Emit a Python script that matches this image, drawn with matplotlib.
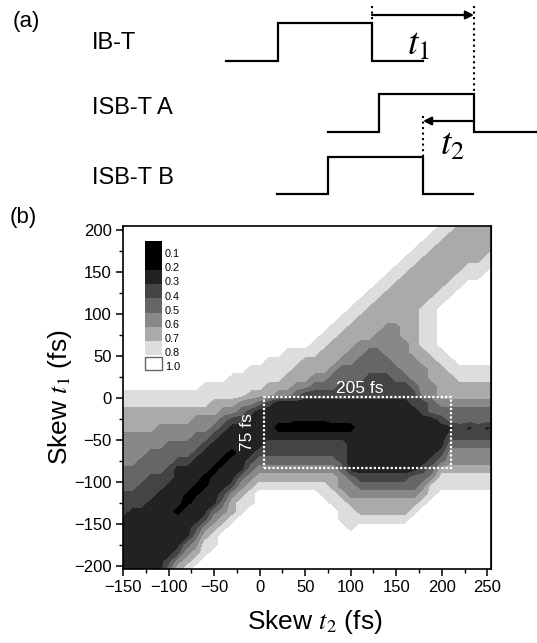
import numpy as np
import matplotlib
matplotlib.use("Agg")
import matplotlib.pyplot as plt
from matplotlib.patches import Rectangle
from matplotlib.ticker import MultipleLocator

plt.rcParams['font.family'] = ['Liberation Sans', 'DejaVu Sans']
plt.rcParams['mathtext.fontset'] = 'stix'

# ---------------- data: panel (b) map ----------------
T2_GRID = list(range(-150, 261, 10))      # skew t2 (fs), columns
T1_GRID = list(range(205, -206, -10))     # skew t1 (fs), rows (top -> bottom)

# band code -> normalised value
LEVEL_VALUE = {'1': 0.13, 'a': 0.17, 'b': 0.21, 'd': 0.23, '2': 0.25, 'c': 0.26,
               '3': 0.35, '4': 0.45, '5': 0.55, '6': 0.65, '7': 0.75, '8': 0.85}

# run-length rows ("code x count"), one per T1_GRID value
MAP_ROWS = [
    "8x35 7x2 6x5",
    "8x34 7x2 6x6",
    "8x33 7x2 6x7",
    "8x32 7x2 6x7 7x1",
    "8x31 7x2 6x7 7x2",
    "8x30 7x2 6x6 7x3 8x1",
    "8x29 7x2 6x6 7x3 8x2",
    "8x28 7x2 6x6 7x2 8x4",
    "8x27 7x2 6x6 7x2 8x5",
    "8x26 7x2 6x6 7x2 8x6",
    "8x25 7x2 6x6 7x2 8x7",
    "8x24 7x2 6x7 7x2 8x7",
    "8x23 7x2 6x4 5x2 6x2 7x2 8x7",
    "8x22 7x2 6x4 5x3 6x2 7x2 8x7",
    "8x21 7x2 6x3 5x6 6x1 7x2 8x7",
    "8x18 7x4 6x3 5x2 4x2 5x3 6x2 7x2 8x6",
    "8x16 7x4 6x4 5x2 4x4 5x3 6x2 7x2 8x5",
    "8x14 7x5 6x4 5x1 4x7 5x3 6x2 7x6",
    "8x12 7x6 6x3 5x2 4x4 3x3 4x2 5x2 6x3 7x5",
    "8x9 7x7 6x3 5x2 4x3 3x8 4x1 5x2 6x7",
    "7x14 6x3 5x2 4x1 3x13 5x2 6x7",
    "7x10 6x3 5x2 4x1 3x1 2x15 3x2 4x1 5x7",
    "6x11 5x2 4x1 3x1 2x18 3x1 4x8",
    "6x8 5x3 4x1 3x2 2x5 bx4 2x12 3x1 4x6",
    "6x4 5x6 4x1 3x1 2x5 1x9 2x10 cx1 3x1 cx1 3x1 cx1 3x1",
    "5x8 4x2 3x1 2x25 3x6",
    "5x5 4x4 3x1 2x6 3x9 2x11 4x6",
    "5x3 4x5 3x1 2x2 dx1 1x1 2x2 3x10 2x10 3x1 5x6",
    "5x2 4x4 3x2 2x3 1x1 2x2 3x1 4x9 3x1 2x9 3x1 4x1 5x6",
    "4x5 3x1 2x4 1x1 2x3 4x1 5x9 4x1 2x8 3x1 4x1 6x7",
    "4x3 3x3 2x3 1x1 dx1 2x2 4x1 5x1 6x9 5x1 4x1 3x6 4x2 5x1 7x7",
    "4x2 3x3 2x3 ax2 2x2 3x1 5x1 6x1 7x8 6x1 5x2 4x7 5x1 7x8",
    "3x4 2x3 ax2 2x2 3x1 5x1 6x1 7x1 8x7 7x2 6x1 5x8 6x1 7x1 8x7",
    "3x3 2x3 dx1 1x1 2x3 4x1 6x1 7x2 8x8 7x2 6x8 7x1 8x8",
    "3x1 2x5 1x1 2x3 4x1 5x1 6x1 7x1 8x10 7x2 6x6 7x1 8x9",
    "2x9 3x1 5x1 6x1 7x1 8x11 7x8 8x10",
    "2x8 3x1 5x1 6x1 7x1 8x13 7x1 8x16",
    "2x8 4x1 6x1 7x1 8x31",
    "2x7 4x1 5x1 7x2 8x31",
    "2x6 3x1 5x1 6x1 7x1 8x32",
    "2x5 3x1 5x1 6x1 7x1 8x33",
    "2x5 4x1 6x1 7x1 8x34",
]

CONTOUR_LEVELS = [0.0, 0.1, 0.2, 0.3, 0.4, 0.5, 0.6, 0.7, 0.8, 1.0]
LEVEL_COLORS = ['#000000', '#000000', '#222222', '#444444', '#666666',
                '#888888', '#aaaaaa', '#dddddd', '#ffffff']
LEGEND_LABELS = ['0.1', '0.2', '0.3', '0.4', '0.5', '0.6', '0.7', '0.8', '1.0']

X_TICKS = [-150, -100, -50, 0, 50, 100, 150, 200, 250]
Y_TICKS = [-200, -150, -100, -50, 0, 50, 100, 150, 200]

BOX_T2 = [5, 210]     # 205 fs window
BOX_T1 = [-83, 1]     # 75 fs window

# ---------------- data: panel (a) timing diagram (pixel units) ----------------
WAVE_NAMES = ['IB-T', 'ISB-T A', 'ISB-T B']
WAVE_START = [226, 328, 277]
WAVE_RISE = [278, 379, 328]
WAVE_FALL = [372, 474, 423]
WAVE_END = [423, 537, 473]
WAVE_HIGH = [23, 94, 157]
WAVE_LOW = [61, 132, 194]
NAME_Y = [43, 108, 178]


def decode(row):
    vals = []
    for tok in row.split():
        code, n = tok.split('x')
        vals += [LEVEL_VALUE[code]] * int(n)
    assert len(vals) == len(T2_GRID), (row, len(vals))
    return vals


Z = np.array([decode(r) for r in MAP_ROWS])
T2, T1 = np.meshgrid(T2_GRID, T1_GRID)

W, H = 537, 643
fig = plt.figure(figsize=(W / 100, H / 100), dpi=100)

# ---- panel (a) overlay in pixel coordinates ----
axa = fig.add_axes([0, 0, 1, 1])
axa.set_xlim(0, W)
axa.set_ylim(H, 0)
axa.axis('off')
axa.patch.set_visible(False)
for i, name in enumerate(WAVE_NAMES):
    xs = [WAVE_START[i], WAVE_RISE[i], WAVE_RISE[i], WAVE_FALL[i], WAVE_FALL[i], WAVE_END[i]]
    ys = [WAVE_LOW[i], WAVE_LOW[i], WAVE_HIGH[i], WAVE_HIGH[i], WAVE_LOW[i], WAVE_LOW[i]]
    axa.plot(xs, ys, color='black', lw=1.6, solid_joinstyle='miter')
    axa.text(92, NAME_Y[i], name, fontsize=17, ha='left', va='center')

axa.plot([WAVE_FALL[0]] * 2, [6, WAVE_HIGH[0]], color='black', lw=1.5, ls=':')
axa.plot([WAVE_FALL[1]] * 2, [6, WAVE_HIGH[1]], color='black', lw=1.5, ls=':')
axa.plot([WAVE_FALL[2]] * 2, [116, WAVE_HIGH[2]], color='black', lw=1.5, ls=':')
axa.annotate('', xy=(WAVE_FALL[1], 15), xytext=(WAVE_FALL[0], 15),
             arrowprops=dict(arrowstyle='-|>', lw=1.6, color='black',
                             mutation_scale=12, shrinkA=0, shrinkB=0))
axa.annotate('', xy=(WAVE_FALL[2], 121), xytext=(WAVE_FALL[1], 121),
             arrowprops=dict(arrowstyle='-|>', lw=1.6, color='black',
                             mutation_scale=12, shrinkA=0, shrinkB=0))
axa.text(418, 45, '$t_1$', fontsize=27, ha='center', va='center')
axa.text(452, 145, '$t_2$', fontsize=27, ha='center', va='center')
axa.text(13, 22, '(a)', fontsize=16, ha='left', va='center')
axa.text(10, 217, '(b)', fontsize=16, ha='left', va='center')

# ---- panel (b) ----
L, R, T, B = 123, 491, 226, 569
ax = fig.add_axes([L / W, 1 - B / H, (R - L) / W, (B - T) / H])
ax.contourf(T2, T1, Z, levels=CONTOUR_LEVELS, colors=LEVEL_COLORS)
ax.set_xlim(-150, 254)
ax.set_ylim(-203.5, 205)

ax.set_xticks(X_TICKS)
ax.set_yticks(Y_TICKS)
ax.xaxis.set_minor_locator(MultipleLocator(25))
ax.yaxis.set_minor_locator(MultipleLocator(25))
ax.tick_params(which='major', direction='out', length=5, width=1.1, labelsize=12, pad=3)
ax.tick_params(which='minor', direction='out', length=3, width=1.0)
for sp in ax.spines.values():
    sp.set_linewidth(1.2)

secx = ax.secondary_xaxis('top')
secx.set_xticks(X_TICKS)
secx.xaxis.set_minor_locator(MultipleLocator(25))
secx.tick_params(which='major', direction='in', length=5, width=1.1, labeltop=False)
secx.tick_params(which='minor', direction='in', length=3, width=1.0)
secy = ax.secondary_yaxis('right')
secy.set_yticks(Y_TICKS)
secy.yaxis.set_minor_locator(MultipleLocator(25))
secy.tick_params(which='major', direction='in', length=5, width=1.1, labelright=False)
secy.tick_params(which='minor', direction='in', length=3, width=1.0)

# dotted window and annotations
ax.add_patch(Rectangle((BOX_T2[0], BOX_T1[0]), BOX_T2[1] - BOX_T2[0], BOX_T1[1] - BOX_T1[0],
                       fill=False, edgecolor='white', lw=1.6, linestyle=(0, (1, 0.9)), zorder=5))
ax.text(110, 11, '205 fs', color='white', fontsize=12.5, ha='center', va='center', zorder=6)
ax.text(-13, -40, '75 fs', color='white', fontsize=12.5, ha='center', va='center',
        rotation=90, zorder=6)

# in-plot legend (colour key)
def fy(py):
    return (B - py) / (B - T)

x0 = (145 - L) / (R - L)
wk = 16.7 / (R - L)
top = 241.5
step = 14.2
key_colors = LEVEL_COLORS[:8]
for k, col in enumerate(key_colors):
    y_top = top + k * step
    ax.add_patch(Rectangle((x0, fy(y_top + step)), wk, step / (B - T),
                           transform=ax.transAxes, facecolor=col, edgecolor='none',
                           zorder=7, clip_on=False))
ax.add_patch(Rectangle((x0, fy(370)), wk, 13 / (B - T), transform=ax.transAxes,
                       facecolor='white', edgecolor='#666666', lw=1.0, zorder=7))
for k, lab in enumerate(LEGEND_LABELS):
    py = 254 + k * step if k < 8 else 367
    ax.text((165 - L) / (R - L), fy(py), lab, transform=ax.transAxes, fontsize=7.8,
            ha='left', va='center', zorder=8)

# axis titles
fig.text(315 / W, 1 - 622 / H, 'Skew $t_2$ (fs)', fontsize=19, ha='center', va='center')
fig.text(60 / W, 1 - 397 / H, 'Skew $t_1$ (fs)', fontsize=19, ha='center', va='center',
         rotation=90)

fig.savefig('out.png', dpi=100)
